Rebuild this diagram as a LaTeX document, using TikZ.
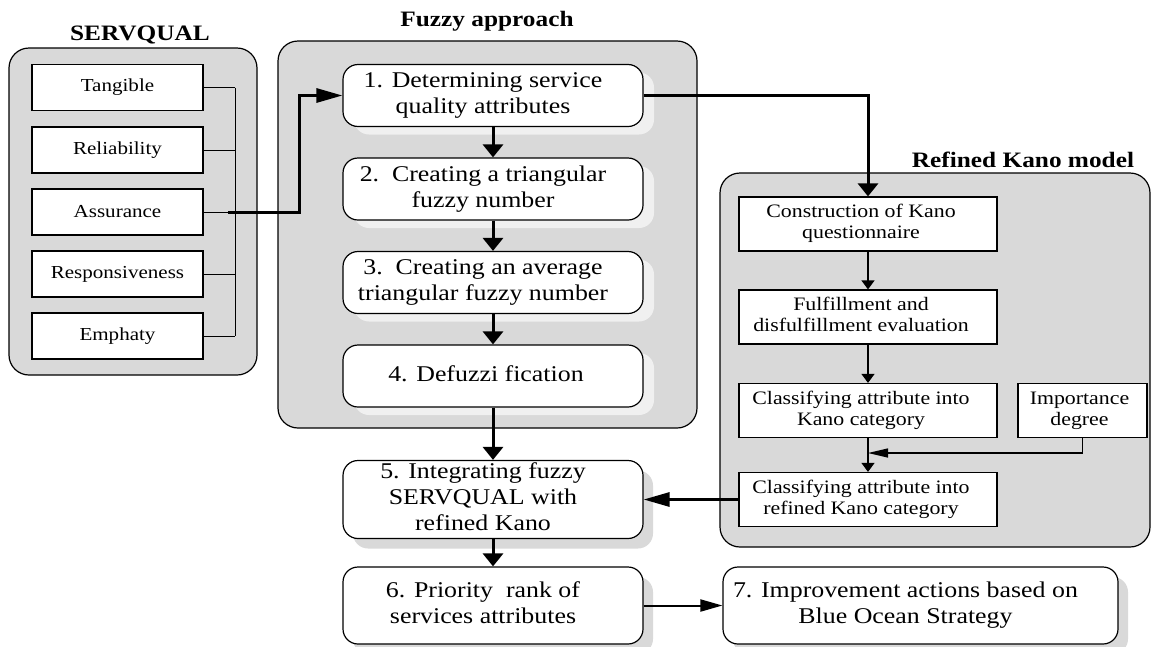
\documentclass[tikz,border=0pt]{standalone}
\usepackage{fontspec}
\setmainfont{Liberation Serif}[FakeStretch=1.15]
\usepackage{tikz}
\usetikzlibrary{arrows.meta,positioning,shadows,calc}
\definecolor{panelgray}{HTML}{D9D9D9}
\definecolor{shadein}{HTML}{F0F0F0}
\definecolor{shadeout}{HTML}{D9D9D9}
% text block pushed a little to the left of the box centre
\newcommand{\padtext}[2][20pt]{\begin{tabular}{@{}c@{\hspace{#1}}}#2\end{tabular}}
\tikzset{
  panel/.style={draw, line width=1.2pt, fill=panelgray, rounded corners=20pt, inner sep=0pt},
  paneltitle/.style={anchor=base, font=\fontsize{22}{25}\selectfont\bfseries},
  dimbox/.style={draw, line width=1.2pt, fill=white, inner sep=0pt, minimum width=171pt, minimum height=46pt, font=\fontsize{18.3}{20}\selectfont},
  stepbase/.style={draw, line width=1.2pt, fill=white, rounded corners=15pt, inner sep=0pt, font=\fontsize{22.5}{26}\selectfont},
  stepbox/.style={stepbase, minimum width=300pt, minimum height=62pt, drop shadow={shadow xshift=11pt, shadow yshift=-8pt, fill=shadein, opacity=1}},
  outbox/.style={stepbase, minimum height=77pt, drop shadow={shadow xshift=10pt, shadow yshift=-10pt, fill=shadeout, opacity=1}},
  kanobox/.style={draw, line width=1.2pt, fill=white, inner sep=0pt, minimum height=54pt, font=\fontsize{19}{21}\selectfont},
  flow/.style={line width=3pt, -{Triangle[length=13pt,width=20pt]}},
  flowh/.style={line width=3pt, -{Triangle[length=26pt,width=14pt]}},
  link/.style={line width=1.2pt, -{Triangle[length=9pt,width=13pt]}},
  linkh/.style={line width=1.2pt, -{Triangle[length=20pt,width=9pt]}}
}
\begin{document}
\begin{tikzpicture}[x=1pt,y=-1pt]
\useasboundingbox (0,0) rectangle (1152,646);
% panels
\node[panel, minimum width=248pt, minimum height=327pt] (servq) at (133,211.5) {};
\node[paneltitle] (servqT) at (140,40) {SERVQUAL};
\node[panel, minimum width=419pt, minimum height=387pt] (fuzzy) at (487.5,234.5) {};
\node[paneltitle] (fuzzyT) at (487,26) {Fuzzy approach};
\node[panel, minimum width=430pt, minimum height=374pt] (kano) at (935,360) {};
\node[paneltitle] (kanoT) at (1023,167) {Refined Kano model};

% SERVQUAL dimensions
\node[dimbox] (tan) at (117.5,87.5) {Tangible};
\node[dimbox] (rel) at (117.5,150) {Reliability};
\node[dimbox] (asr) at (117.5,212) {Assurance};
\node[dimbox] (rsp) at (117.5,274) {Responsiveness};
\node[dimbox] (emp) at (117.5,336) {Emphaty};
\coordinate (bus) at (235,0);
\coordinate (jn) at (228,212);
\foreach \d in {tan,rel,asr,rsp,emp}
  \draw[line width=1pt] (\d.east) -- (\d.east -| bus);
\draw[line width=1pt] (bus |- tan.east) -- (bus |- emp.east);

% fuzzy steps
\node[stepbox] (s1) at (493,95.5) {\padtext{1. Determining service\\quality attributes}};
\node[stepbox] (s2) at (493,189) {\padtext{2.\ \ Creating a triangular\\fuzzy number}};
\node[stepbox] (s3) at (493,282.5) {\padtext{3.\ \ Creating an average\\triangular fuzzy number}};
\node[stepbox] (s4) at (493,376) {\padtext[14pt]{4. Defuzzi fication}};
\node[outbox, minimum width=300pt] (s5) at (493,499.5) {\padtext{5. Integrating fuzzy\\SERVQUAL with\\refined Kano}};
\node[outbox, minimum width=300pt] (s6) at (493,605.5) {\padtext{6. Priority\ \ rank of\\services attributes}};
\node[outbox, minimum width=395pt] (s7) at (920.5,605.5) {\padtext[30pt]{7. Improvement actions based on\\Blue Ocean Strategy}};

% refined Kano
\node[kanobox, minimum width=258pt] (ka) at (868,224) {\padtext[14pt]{Construction of Kano\\questionnaire}};
\node[kanobox, minimum width=258pt] (kb) at (868,317) {\padtext[14pt]{Fulfillment and\\disfulfillment evaluation}};
\node[kanobox, minimum width=258pt] (kc) at (868,410.5) {\padtext[14pt]{Classifying attribute into\\Kano category}};
\node[kanobox, minimum width=129pt] (imp) at (1082.5,410.5) {\padtext[6pt]{Importance\\degree}};
\node[kanobox, minimum width=258pt] (kd) at (868,499.5) {\padtext[14pt]{Classifying attribute into\\refined Kano category}};
\coordinate (mrg) at (868,453);

% connectors
\draw[flowh] (jn) -- ++(71,0) |- (s1.west);
\draw[flow] (s1.east) -| (ka.north);
\path[flow]
(s1) edge (s2)
(s2) edge (s3)
(s3) edge (s4)
(s4) edge (s5)
(s5) edge (s6);
\draw[flowh] (kd.west) -- (s5.east);
\draw[line width=2pt, -{Triangle[length=22pt,width=12pt]}] (s6.east) -- (s7.west);
\path[link]
(ka) edge (kb)
(kb) edge (kc)
(kc) edge (kd);
\draw[linkh] (imp.south) |- (mrg);
\end{tikzpicture}
\end{document}
